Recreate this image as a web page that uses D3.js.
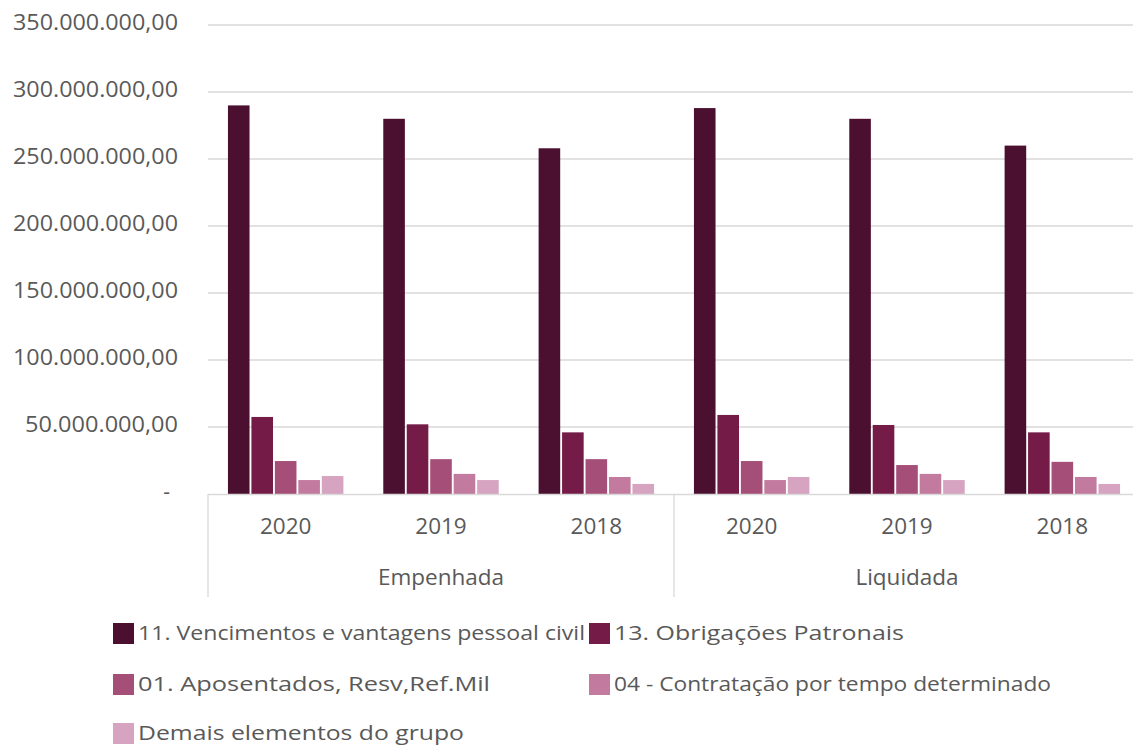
<!doctype html>
<html lang="pt">
<head>
<meta charset="utf-8">
<title>Despesas por elemento</title>
<style>
  html, body { margin: 0; padding: 0; background: #fff; }
  svg { display: block; }
  text { font-family: "Open Sans", "DejaVu Sans", sans-serif; fill: #595959; }
</style>
</head>
<body>
<svg width="1133" height="745"></svg>
<script src="https://cdn.jsdelivr.net/npm/d3@7"></script>
<script>
// categories
var groups = ["Empenhada", "Liquidada"];
var years = ["2020", "2019", "2018"];
var series = [
  "11. Vencimentos e vantagens pessoal civil",
  "13. Obrigações Patronais",
  "01. Aposentados, Resv,Ref.Mil",
  "04 - Contratação por tempo determinado",
  "Demais elementos do grupo"
];
var colors = ["#4b1030", "#741c47", "#a54e78", "#c27a9f", "#d6a4c0"];

// values in R$ (millions), order: Empenhada 2020, 2019, 2018, Liquidada 2020, 2019, 2018
var vencimentos = [290, 280, 258, 288, 280, 260];
var obrigacoes  = [57.5, 52, 46, 59, 51.5, 46];
var aposentados = [24.6, 26, 26, 24.6, 21.6, 24];
var contratacao = [10.4, 15, 12.7, 10.4, 15, 12.7];
var demais      = [13.4, 10.4, 7.5, 12.7, 10.4, 7.5];
var yTicks = [0, 50, 100, 150, 200, 250, 300, 350];

var allSeries = [vencimentos, obrigacoes, aposentados, contratacao, demais];

var rows = [];
groups.forEach(function(g, gi) {
  years.forEach(function(y, yi) {
    var k = gi * years.length + yi;
    rows.push({
      key: g + "|" + y, group: g, year: y,
      values: allSeries.map(function(s) { return s[k] * 1e6; })
    });
  });
});

var svg = d3.select("svg");
var plotL = 208, plotR = 1140, plotT = 25, plotB = 494;

var x0 = d3.scaleBand().domain(rows.map(function(d) { return d.key; }))
  .range([plotL, plotR]).paddingInner(0).paddingOuter(0);
var x1 = d3.scaleBand().domain(d3.range(series.length))
  .range([0, x0.bandwidth()]).paddingInner(0.08).paddingOuter(0.85);
var y = d3.scaleLinear().domain([0, 350e6]).range([plotB, plotT]);

var fmt = function(v) {
  if (v === 0) return "-";
  var s = d3.format(",.2f")(v);
  return s.replace(/,/g, "#").replace(".", ",").replace(/#/g, ".");
};

// gridlines
svg.append("g").selectAll("line")
  .data(yTicks.slice(1))
  .enter().append("line")
  .attr("x1", plotL).attr("x2", plotR)
  .attr("y1", function(d) { return y(d * 1e6); })
  .attr("y2", function(d) { return y(d * 1e6); })
  .attr("stroke", "#d9d9d9").attr("stroke-width", 1.3);

// y labels
svg.append("g").selectAll("text")
  .data(yTicks)
  .enter().append("text")
  .attr("x", function(d) { return d === 0 ? 170 : 178; })
  .attr("y", function(d) { return y(d * 1e6) - 2; })
  .attr("dy", "0.35em")
  .attr("text-anchor", "end")
  .style("font-size", "21px")
  .attr("textLength", function(d) { return d === 0 ? null : (d >= 100 ? 165 : 153); })
  .attr("lengthAdjust", "spacingAndGlyphs")
  .text(function(d) { return fmt(d * 1e6); });

// bars
var cat = svg.append("g").selectAll("g")
  .data(rows)
  .enter().append("g")
  .attr("transform", function(d) { return "translate(" + x0(d.key) + ",0)"; });

cat.selectAll("rect")
  .data(function(d) { return d.values; })
  .enter().append("rect")
  .attr("x", function(d, i) { return x1(i); })
  .attr("width", x1.bandwidth())
  .attr("y", function(d) { return y(d); })
  .attr("height", function(d) { return plotB - y(d); })
  .attr("fill", function(d, i) { return colors[i]; });

// category axis
var axis = svg.append("g");
axis.append("line")
  .attr("x1", plotL).attr("x2", plotR)
  .attr("y1", plotB + 0.5).attr("y2", plotB + 0.5)
  .attr("stroke", "#d9d9d9").attr("stroke-width", 1.3);

var gEdges = groups.map(function(g, gi) { return x0(rows[gi * years.length].key); });
gEdges.push(plotR);
axis.selectAll("line.sep")
  .data(gEdges)
  .enter().append("line")
  .attr("class", "sep")
  .attr("x1", function(d) { return d; }).attr("x2", function(d) { return d; })
  .attr("y1", plotB).attr("y2", 597)
  .attr("stroke", "#d9d9d9").attr("stroke-width", 1.3);

axis.selectAll("text.year")
  .data(rows)
  .enter().append("text")
  .attr("class", "year")
  .attr("x", function(d) { return x0(d.key) + x0.bandwidth() / 2; })
  .attr("y", 534)
  .attr("text-anchor", "middle")
  .style("font-size", "22.5px")
  .text(function(d) { return d.year; });

axis.selectAll("text.grp")
  .data(groups)
  .enter().append("text")
  .attr("class", "grp")
  .attr("x", function(d, i) { return (gEdges[i] + gEdges[i + 1]) / 2; })
  .attr("y", 585)
  .attr("text-anchor", "middle")
  .style("font-size", "22.5px")
  .text(function(d) { return d; });

// legend
var legendPos = [[113, 633], [589, 633], [113, 684], [589, 684], [113, 733]];
var legendLen = [447, 290, 352, 437, 326];
var leg = svg.append("g").selectAll("g")
  .data(series)
  .enter().append("g")
  .attr("transform", function(d, i) { return "translate(" + legendPos[i][0] + "," + legendPos[i][1] + ")"; });
leg.append("rect")
  .attr("x", 0).attr("y", -10).attr("width", 21).attr("height", 21)
  .attr("fill", function(d, i) { return colors[i]; });
leg.append("text")
  .attr("x", 25).attr("y", 0).attr("dy", "0.35em")
  .style("font-size", "20px")
  .attr("textLength", function(d, i) { return legendLen[i]; })
  .attr("lengthAdjust", "spacingAndGlyphs")
  .text(function(d) { return d; });
</script>
</body>
</html>
